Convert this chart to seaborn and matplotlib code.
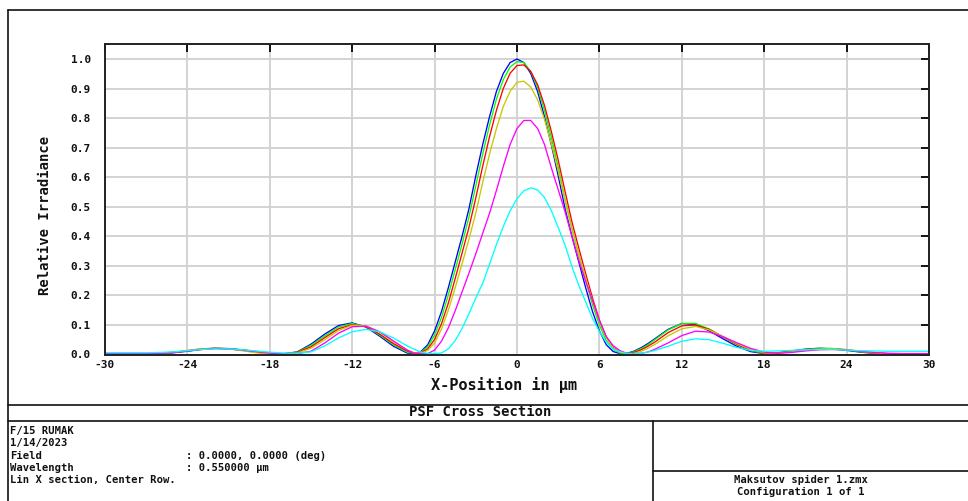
import numpy as np
import pandas as pd
import matplotlib
matplotlib.use("Agg")
import matplotlib.pyplot as plt
import seaborn as sns
from matplotlib.lines import Line2D

# ---------------- data ----------------
x_um = [-30, -29, -28, -27, -26, -25, -24, -23, -22, -21, -20, -19, -18, -17, -16, -15, -14, -13, -12, -11, -10, -9, -8,
        -7.5, -7, -6.5, -6, -5.5, -5, -4.5, -4, -3.5, -3, -2.5, -2, -1.5, -1, -0.5, 0, 0.5, 1, 1.5, 2, 2.5, 3, 3.5,
        4, 4.5, 5, 5.5, 6, 6.5, 7, 7.5, 8, 8.5, 9, 9.5,
        10, 11, 12, 13, 14, 15, 16, 17, 18, 19, 20, 21, 22, 23, 24, 25, 26, 27, 28, 29, 30]

irr_blue = [0.002, 0.002, 0.002, 0.002, 0.003, 0.006, 0.011, 0.017, 0.021, 0.020, 0.016, 0.010, 0.004, 0.002, 0.009,
            0.035, 0.069, 0.098, 0.107, 0.093, 0.062, 0.028, 0.005,
            0.003, 0.010, 0.033, 0.080, 0.145, 0.226, 0.313, 0.400, 0.493, 0.605, 0.710, 0.805, 0.890, 0.951, 0.988,
            1.000, 0.988, 0.951, 0.890, 0.805, 0.710, 0.605, 0.493, 0.400, 0.313, 0.226, 0.145, 0.080, 0.033, 0.010,
            0.003, 0.004, 0.011, 0.022, 0.036,
            0.052, 0.085, 0.105, 0.101, 0.080, 0.053, 0.028, 0.010, 0.003, 0.006, 0.012, 0.018, 0.021, 0.019, 0.014,
            0.008, 0.004, 0.003, 0.003, 0.003, 0.003]

irr_green = [0.002, 0.002, 0.002, 0.002, 0.003, 0.007, 0.012, 0.018, 0.021, 0.020, 0.015, 0.009, 0.003, 0.002, 0.008,
             0.031, 0.063, 0.093, 0.105, 0.094, 0.066, 0.033, 0.008,
             0.004, 0.008, 0.026, 0.066, 0.125, 0.202, 0.287, 0.374, 0.465, 0.571, 0.678, 0.776, 0.864, 0.930, 0.973,
             0.991, 0.988, 0.958, 0.904, 0.826, 0.735, 0.634, 0.524, 0.426, 0.337, 0.251, 0.168, 0.100, 0.047, 0.017,
             0.005, 0.003, 0.009, 0.019, 0.032,
             0.049, 0.083, 0.105, 0.105, 0.086, 0.059, 0.033, 0.013, 0.004, 0.005, 0.011, 0.018, 0.021, 0.020, 0.015,
             0.009, 0.004, 0.003, 0.003, 0.003, 0.003]

irr_red = [0.002, 0.002, 0.002, 0.002, 0.004, 0.007, 0.013, 0.019, 0.021, 0.019, 0.014, 0.008, 0.003, 0.003, 0.007,
           0.026, 0.057, 0.087, 0.101, 0.094, 0.069, 0.037, 0.012,
           0.004, 0.006, 0.019, 0.051, 0.104, 0.174, 0.257, 0.343, 0.430, 0.530, 0.637, 0.737, 0.826, 0.900, 0.952,
           0.978, 0.980, 0.958, 0.913, 0.843, 0.755, 0.658, 0.552, 0.449, 0.360, 0.274, 0.191, 0.117, 0.060, 0.024,
           0.007, 0.003, 0.007, 0.015, 0.027,
           0.041, 0.074, 0.097, 0.100, 0.085, 0.060, 0.035, 0.015, 0.005, 0.005, 0.011, 0.017, 0.020, 0.020, 0.016,
           0.010, 0.005, 0.003, 0.003, 0.002, 0.002]

irr_yellow = [0.002, 0.002, 0.002, 0.002, 0.004, 0.008, 0.014, 0.019, 0.021, 0.019, 0.013, 0.006, 0.002, 0.003, 0.005,
              0.021, 0.050, 0.081, 0.099, 0.097, 0.075, 0.044, 0.016,
              0.006, 0.004, 0.014, 0.039, 0.086, 0.150, 0.226, 0.307, 0.390, 0.479, 0.582, 0.678, 0.764, 0.839, 0.891,
              0.921, 0.925, 0.905, 0.862, 0.796, 0.713, 0.621, 0.521, 0.424, 0.339, 0.259, 0.180, 0.111, 0.057, 0.022,
              0.007, 0.003, 0.004, 0.010, 0.020,
              0.033, 0.063, 0.087, 0.095, 0.083, 0.061, 0.037, 0.017, 0.006, 0.004, 0.009, 0.015, 0.019, 0.020, 0.017,
              0.011, 0.006, 0.003, 0.002, 0.002, 0.002]

irr_magenta = [0.003, 0.003, 0.003, 0.003, 0.004, 0.007, 0.012, 0.017, 0.020, 0.019, 0.015, 0.010, 0.005, 0.002, 0.003,
               0.011, 0.039, 0.072, 0.094, 0.096, 0.077, 0.046, 0.015,
               0.005, 0.002, 0.003, 0.015, 0.045, 0.090, 0.148, 0.212, 0.275, 0.341, 0.410, 0.478, 0.555, 0.636, 0.711,
               0.765, 0.792, 0.792, 0.765, 0.711, 0.632, 0.558, 0.483, 0.400, 0.318, 0.248, 0.182, 0.115, 0.060, 0.030,
               0.013, 0.004, 0.003, 0.004, 0.008,
               0.017, 0.039, 0.064, 0.079, 0.076, 0.060, 0.040, 0.021, 0.008, 0.004, 0.007, 0.012, 0.016, 0.017, 0.015,
               0.011, 0.007, 0.004, 0.003, 0.003, 0.003]

irr_cyan = [0.006, 0.006, 0.006, 0.006, 0.007, 0.009, 0.013, 0.017, 0.019, 0.019, 0.016, 0.012, 0.008, 0.005, 0.004,
            0.009, 0.029, 0.056, 0.077, 0.085, 0.077, 0.056, 0.029,
            0.018, 0.008, 0.004, 0.003, 0.005, 0.019, 0.047, 0.088, 0.138, 0.191, 0.241, 0.306, 0.372, 0.433, 0.486,
            0.527, 0.554, 0.564, 0.557, 0.531, 0.487, 0.430, 0.370, 0.297, 0.234, 0.178, 0.122, 0.078, 0.042, 0.018,
            0.009, 0.004, 0.002, 0.004, 0.008,
            0.013, 0.028, 0.045, 0.053, 0.050, 0.038, 0.024, 0.014, 0.011, 0.012, 0.014, 0.016, 0.017, 0.017, 0.015,
            0.013, 0.012, 0.011, 0.011, 0.011, 0.011]

curve_names = ["1", "2", "3", "4", "5", "6"]
curve_colors = ["#0000ff", "#00ff00", "#ff0000", "#c8c800", "#ff00ff", "#00ffff"]

x_ticks = [-30, -24, -18, -12, -6, 0, 6, 12, 18, 24, 30]
y_ticks = [0.0, 0.1, 0.2, 0.3, 0.4, 0.5, 0.6, 0.7, 0.8, 0.9, 1.0]
y_tick_labels = ["0.0", "0.1", "0.2", "0.3", "0.4", "0.5", "0.6", "0.7", "0.8", "0.9", "1.0"]

title_text = "PSF Cross Section"
x_label = "X-Position in \u00b5m"
y_label = "Relative Irradiance"
info_lines = ["F/15 RUMAK", "1/14/2023"]
field_key, field_val = "Field", ": 0.0000, 0.0000 (deg)"
wave_key, wave_val = "Wavelength", ": 0.550000 \u00b5m"
section_line = "Lin X section, Center Row."
file_lines = ["Maksutov spider 1.zmx", "Configuration 1 of 1"]

# ---------------- build long table ----------------
series = [irr_blue, irr_green, irr_red, irr_yellow, irr_magenta, irr_cyan]
df = pd.concat([pd.DataFrame({"x": x_um, "irr": s, "curve": n}) for s, n in zip(series, curve_names)],
               ignore_index=True)

# ---------------- style ----------------
sns.set_style("white")
plt.rcParams['font.family'] = ['DejaVu Sans Mono', 'DejaVu Sans']
plt.rcParams['font.weight'] = 'bold'

W, H = 968, 501
fig = plt.figure(figsize=(W / 100, H / 100), dpi=100)
fig.patch.set_facecolor("white")


def fx(px):
    return px / W


def fy(py):
    return 1 - py / H


ax_l, ax_r, ax_t, ax_b = 105, 929, 44, 354.5
ax = fig.add_axes([fx(ax_l), fy(ax_b), fx(ax_r) - fx(ax_l), fy(ax_t) - fy(ax_b)])

sns.lineplot(data=df, x="x", y="irr", hue="curve", palette=dict(zip(curve_names, curve_colors)),
             linewidth=0.95, legend=False, errorbar=None, ax=ax)

ax.set_xlim(-30, 30)
ax.set_ylim(0, 1.0508)
ax.set_xticks(x_ticks)
ax.set_xticklabels([str(t) for t in x_ticks])
ax.set_yticks(y_ticks)
ax.set_yticklabels(y_tick_labels)
ax.set_xlabel("")
ax.set_ylabel("")
ax.grid(True, color="#d3d3d3", linewidth=1.4)
ax.set_axisbelow(True)
ax.tick_params(axis="both", direction="in", length=6, width=1.4, color="#111111",
               top=True, right=True, labelsize=8, labelcolor="#111111")
ax.tick_params(axis="x", pad=4)
ax.tick_params(axis="y", pad=10)
for sp in ax.spines.values():
    sp.set_color("#222222")
    sp.set_linewidth(1.4)
    sp.set_visible(True)

# axis labels
fig.text(fx(504), fy(385), x_label, ha="center", va="center", fontsize=11, color="#111111")
fig.text(fx(45), fy(215), y_label, ha="center", va="center", rotation=90, fontsize=10, color="#111111")

# ---------------- frame / info box ----------------
lc = "#111111"
lw = 1.2


def hline(y, x0, x1):
    fig.add_artist(Line2D([fx(x0), fx(x1)], [fy(y), fy(y)], transform=fig.transFigure, color=lc, lw=lw))


def vline(x, y0, y1):
    fig.add_artist(Line2D([fx(x), fx(x)], [fy(y0), fy(y1)], transform=fig.transFigure, color=lc, lw=lw))


hline(10, 8, 968)
vline(8, 10, 501)
hline(404.5, 8, 968)
hline(420.5, 8, 968)
vline(653, 420.5, 501)
hline(470.5, 653, 968)

fig.text(fx(480), fy(412.5), title_text, ha="center", va="center", fontsize=10, color="#111111")

rows_y = [431, 443.3, 455.6, 467.9, 480.2]
fs_info = 7.6
fig.text(fx(10), fy(rows_y[0]), info_lines[0], ha="left", va="center", fontsize=fs_info, color="#111111")
fig.text(fx(10), fy(rows_y[1]), info_lines[1], ha="left", va="center", fontsize=fs_info, color="#111111")
fig.text(fx(10), fy(rows_y[2]), field_key, ha="left", va="center", fontsize=fs_info, color="#111111")
fig.text(fx(186), fy(rows_y[2]), field_val, ha="left", va="center", fontsize=fs_info, color="#111111")
fig.text(fx(10), fy(rows_y[3]), wave_key, ha="left", va="center", fontsize=fs_info, color="#111111")
fig.text(fx(186), fy(rows_y[3]), wave_val, ha="left", va="center", fontsize=fs_info, color="#111111")
fig.text(fx(10), fy(rows_y[4]), section_line, ha="left", va="center", fontsize=fs_info, color="#111111")

fig.text(fx(801), fy(479.5), file_lines[0], ha="center", va="center", fontsize=fs_info, color="#111111")
fig.text(fx(801), fy(492), file_lines[1], ha="center", va="center", fontsize=fs_info, color="#111111")

fig.savefig("out.png", dpi=100, facecolor="white")
